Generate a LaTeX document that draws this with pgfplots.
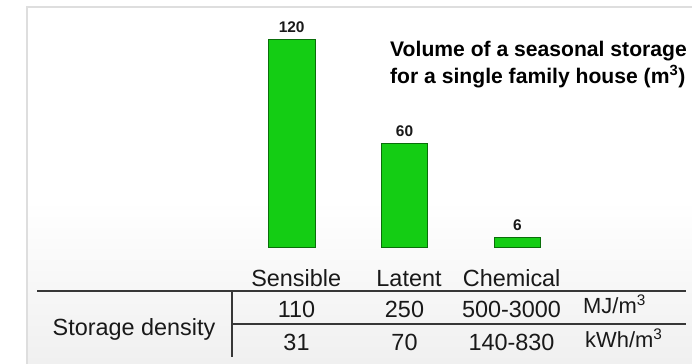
\documentclass[border=0pt]{standalone}
\usepackage{fontspec}
\setmainfont{Liberation Sans}
\usepackage{pgfplots}
\pgfplotsset{compat=1.18}
\definecolor{barfill}{RGB}{20,205,20}
\definecolor{baredge}{RGB}{10,110,10}
\definecolor{rulegray}{RGB}{55,55,55}
\definecolor{framegray}{RGB}{222,222,222}
\definecolor{shadegray}{RGB}{240,240,240}
\definecolor{textgray}{RGB}{25,25,25}
\begin{document}
\begin{tikzpicture}
% page background and slide frame
\begin{scope}[x=1bp,y=-1bp]
  \path[use as bounding box] (0,0) rectangle (692,363);
  \fill[white] (0,0) rectangle (692,363);
  \shade[top color=white,bottom color=shadegray] (28,200) rectangle (692,363);
  \draw[framegray,line width=1.6bp] (27,370) -- (27,7) -- (700,7);
\end{scope}

\begin{axis}[
  at={(178.9bp,-247.5bp)}, anchor=south west,
  scale only axis, width=451.2bp, height=225.55bp,
  xmin=-1, xmax=3, ymin=0, ymax=130,
  axis line style={draw=none},
  major tick style={draw=none},
  ytick=\empty,
  xtick={0.04,1.04,1.95},
  xticklabels={Sensible,Latent,Chemical},
  xticklabel style={font=\fontsize{23.5}{28}\selectfont, text=textgray, anchor=base, yshift=-34.5bp, inner sep=0pt},
  ybar, bar width=46.5bp,
  nodes near coords={\pgfmathprintnumber[assume math mode=true]{\pgfplotspointmeta}},
  every node near coord/.append style={font=\bfseries\fontsize{15.5}{18}\selectfont, text=textgray, anchor=base, yshift=6.5bp, inner sep=0pt},
  clip=false,
]
\addplot[fill=barfill, draw=baredge, line width=0.8bp] coordinates {(0,120) (1,60) (2,6)};
\end{axis}

% title and density table
\begin{scope}[x=1bp,y=-1bp]
  \node[anchor=base west, inner sep=0pt, text=black, font=\bfseries\fontsize{21.2}{25}\selectfont] at (390,56.7) {Volume of a seasonal storage};
  \node[anchor=base west, inner sep=0pt, text=black, font=\bfseries\fontsize{21.2}{25}\selectfont] at (390,83.3) {for a single family house (m\textsuperscript{3})};

  \draw[rulegray, line width=1.5bp] (37,291) -- (686,291);
  \draw[rulegray, line width=1.5bp] (232,324) -- (686,324);
  \draw[rulegray, line width=1.5bp] (232,291) -- (232,357);

  \begin{scope}[every node/.style={anchor=base, inner sep=0pt, text=textgray, font=\fontsize{23.5}{28}\selectfont}]
    \node at (134,335) {Storage density};
    \node at (296.5,317) {110};
    \node at (404.5,317) {250};
    \node at (511.5,317) {500-3000};
    \node at (296.5,350) {31};
    \node at (404.5,350) {70};
    \node at (511.5,350) {140-830};
  \end{scope}
  \node[anchor=base west, inner sep=0pt, text=textgray, font=\fontsize{22}{26}\selectfont] at (583,313) {MJ/m\textsuperscript{3}};
  \node[anchor=base west, inner sep=0pt, text=textgray, font=\fontsize{22}{26}\selectfont] at (585,347) {kWh/m\textsuperscript{3}};
\end{scope}
\end{tikzpicture}
\end{document}
